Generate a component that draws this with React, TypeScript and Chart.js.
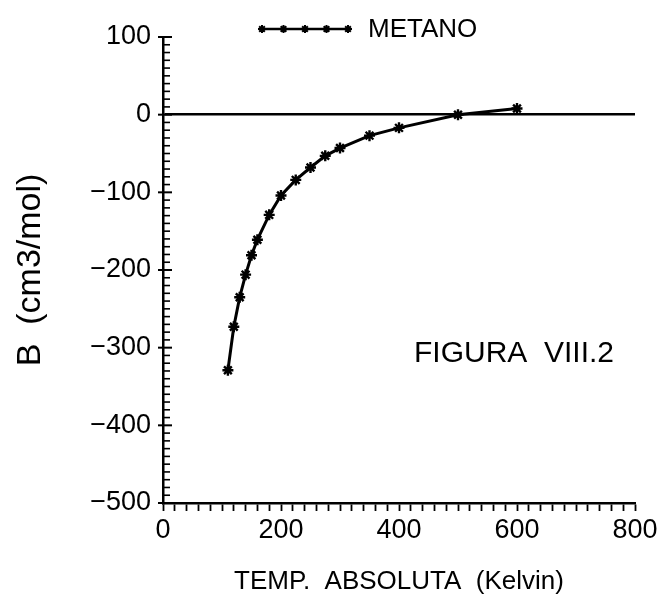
import React, { useEffect, useRef } from "react";
import { Chart, registerables } from "chart.js";

Chart.register(...registerables);

const temperatures = [110, 120, 130, 140, 150, 160, 180, 200, 225, 250, 275, 300, 350, 400, 500, 600];
const virialB = [-329, -273, -235, -206, -181, -161, -129, -104, -84, -68, -53, -43, -27, -17, 0, 8];
const seriesName = "METANO";
const xTitle = "TEMP.  ABSOLUTA  (Kelvin)";
const yTitle = "B  (cm3/mol)";
const figureLabel = "FIGURA  VIII.2";
const xMin = 0, xMax = 800, xMinorStep = 20, xMajorStep = 200;
const yMin = -500, yMax = 100, yMinorStep = 10, yMajorStep = 100;

const FONT = "'Liberation Sans', Arial, sans-serif";

const fmt = (v: number) => (v < 0 ? "\u2212" + Math.abs(v) : String(v));

const decorPlugin = {
  id: "decor",
  afterDraw(chart: any) {
    const { ctx, chartArea } = chart;
    const ys = chart.scales.y;
    ctx.save();
    ctx.strokeStyle = "#000";
    // y-axis inner ticks
    for (let v = yMin; v <= yMax; v += yMinorStep) {
      const py = ys.getPixelForValue(v);
      const major = v % yMajorStep === 0;
      ctx.lineWidth = major ? 2 : 1.6;
      ctx.beginPath();
      ctx.moveTo(chartArea.left - (major ? 5 : 0), py);
      ctx.lineTo(chartArea.left + (major ? 9 : 7), py);
      ctx.stroke();
    }
    // legend
    const lx0 = 262, lx1 = 348, ly = 29;
    ctx.lineWidth = 2.5;
    ctx.beginPath();
    ctx.moveTo(lx0, ly);
    ctx.lineTo(lx1, ly);
    ctx.stroke();
    for (let i = 0; i < 5; i++) {
      const px = lx0 + ((lx1 - lx0) * i) / 4;
      ctx.beginPath();
      ctx.lineWidth = 2;
      const r = 4;
      for (let k = 0; k < 4; k++) {
        const a = (Math.PI / 4) * k;
        ctx.moveTo(px - r * Math.cos(a), ly - r * Math.sin(a));
        ctx.lineTo(px + r * Math.cos(a), ly + r * Math.sin(a));
      }
      ctx.stroke();
    }
    ctx.fillStyle = "#000";
    ctx.font = `26px ${FONT}`;
    ctx.textAlign = "left";
    ctx.textBaseline = "middle";
    ctx.fillText(seriesName, 368, ly + 1);
    // figure label
    ctx.font = `30px ${FONT}`;
    ctx.fillText(figureLabel, 414, 354);
    ctx.restore();
  },
};

export default function App() {
  const ref = useRef<HTMLCanvasElement>(null);
  useEffect(() => {
    const canvas = ref.current!;
    const chart = new Chart(canvas, {
      type: "line",
      data: {
        datasets: [
          {
            label: seriesName,
            data: temperatures.map((t, i) => ({ x: t, y: virialB[i] })),
            borderColor: "#000",
            backgroundColor: "#000",
            borderWidth: 3,
            pointStyle: "star",
            pointRadius: 5.5,
            pointBorderWidth: 2.4,
            pointBorderColor: "#000",
            tension: 0,
            fill: false,
          },
        ],
      },
      options: {
        responsive: false,
        animation: false,
        layout: { padding: { top: 37, right: 28, left: 0, bottom: 0 } },
        plugins: { legend: { display: false }, tooltip: { enabled: false } },
        scales: {
          x: {
            type: "linear",
            min: xMin,
            max: xMax,
            afterFit: (s: any) => { s.height = 96; },
            afterBuildTicks: (s: any) => {
              const t = [];
              for (let v = xMin; v <= xMax; v += xMinorStep) t.push({ value: v });
              s.ticks = t;
            },
            ticks: {
              autoSkip: false,
              maxRotation: 0,
              color: "#000",
              padding: 3,
              font: { family: FONT, size: 27 },
              callback: (v: any) => (Number(v) % xMajorStep === 0 ? fmt(Number(v)) : ""),
            },
            grid: {
              drawOnChartArea: false,
              drawTicks: true,
              tickLength: 8,
              tickColor: "#000",
              tickWidth: 1.8,
            },
            border: { display: true, color: "#000", width: 2.5 },
            title: {
              display: true,
              text: xTitle,
              color: "#000",
              font: { family: FONT, size: 26 },
              padding: { top: 0, bottom: 2 },
            },
          },
          y: {
            type: "linear",
            min: yMin,
            max: yMax,
            afterFit: (s: any) => { s.width = 163; },
            afterBuildTicks: (s: any) => {
              const t = [];
              for (let v = yMin; v <= yMax; v += yMinorStep) t.push({ value: v });
              s.ticks = t;
            },
            ticks: {
              autoSkip: false,
              color: "#000",
              padding: 12,
              font: { family: FONT, size: 27 },
              callback: (v: any) => (Number(v) % yMajorStep === 0 ? fmt(Number(v)) : ""),
            },
            grid: {
              drawTicks: false,
              color: (c: any) => (c.tick && c.tick.value === 0 ? "#000" : "rgba(0,0,0,0)"),
              lineWidth: 2.5,
            },
            border: { display: true, color: "#000", width: 2.5 },
            title: {
              display: true,
              text: yTitle,
              color: "#000",
              font: { family: FONT, size: 34 },
              padding: { top: 10, bottom: 0 },
            },
          },
        },
      },
      plugins: [decorPlugin],
    } as any);
    return () => chart.destroy();
  }, []);
  return (
    <div style={{ position: "absolute", left: 0, top: 0, width: 663, height: 599, background: "#fff" }}>
      <canvas ref={ref} width={663} height={599} style={{ width: 663, height: 599, display: "block" }} />
    </div>
  );
}
